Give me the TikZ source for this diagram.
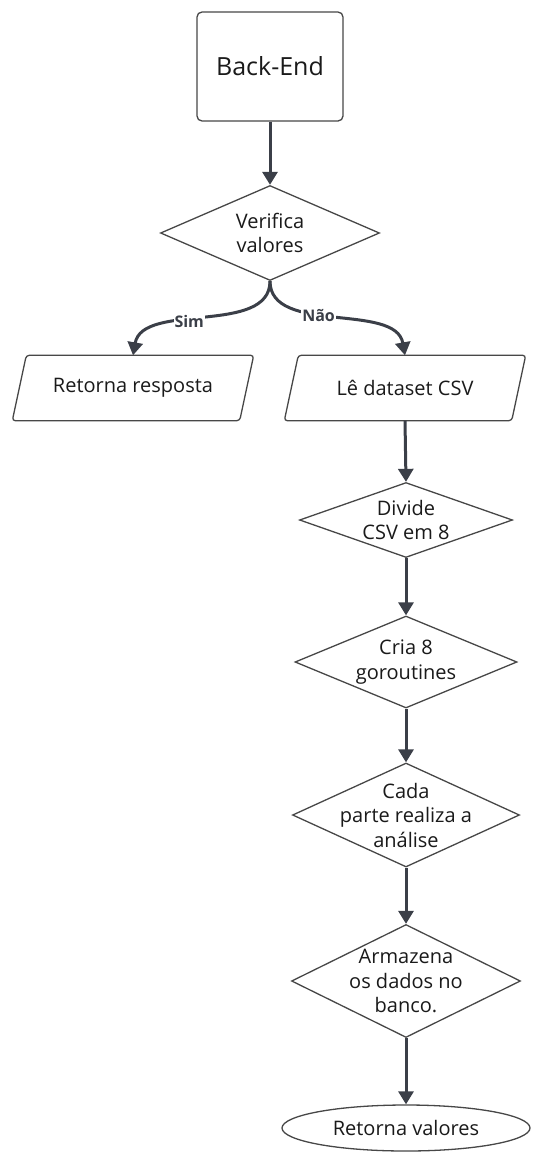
\documentclass[tikz,border=0pt]{standalone}
\usepackage{fontspec}
\setmainfont{Open Sans}
\usetikzlibrary{shapes.geometric,arrows.meta,positioning}
\definecolor{flowLine}{HTML}{3B3F48}
\definecolor{flowBorder}{HTML}{474747}
\definecolor{flowText}{HTML}{1A1A1A}
\newcommand{\flowfont}{\fontsize{20}{24.5}\selectfont}
\tikzset{
  flowshape/.style={draw=flowBorder, line width=1.3pt, fill=white, text=flowText, inner sep=0pt},
  flowborder/.style={draw=flowBorder, line width=1.3pt, line join=round},
  flowbox/.style={flowshape, rounded corners=5pt, minimum width=146pt, minimum height=109pt, font=\fontsize{25}{30}\selectfont},
  flowio/.style={text=flowText, inner sep=0pt, minimum width=227pt, minimum height=65pt, font=\flowfont},
  flowdecision/.style={flowshape, diamond},
  flowterm/.style={flowshape, ellipse, minimum width=248pt, minimum height=46pt, font=\flowfont},
  flowtext/.style={align=center, text=flowText, font=\flowfont},
  flowarrow/.style={draw=flowLine, line width=3pt, -{Triangle[width=15pt,length=13pt]}},
  flowlabel/.style={fill=white, inner sep=1pt, text=flowLine, font=\bfseries\fontsize{16}{18}\selectfont}
}
\begin{document}
\begin{tikzpicture}[x=1pt, y=-1pt]
\useasboundingbox (0,0) rectangle (536,1154);
% main nodes
\node[flowbox] (backend) at (270,66.5) {Back-End};
\node[flowdecision, minimum width=219pt, minimum height=95pt,
  label={[flowtext]center:{Verifica\\valores}}] (verifica) at (270,233) {};
\node[flowio] (retorna) at (133,388) {Retorna resposta};
\node[flowio] (dataset) at (405,388) {Lê dataset CSV};
% slanted outlines of the two data boxes
\draw[flowborder, rounded corners=3pt] ([xshift=7pt]retorna.north west) -- ([xshift=7pt]retorna.north east)
  -- ([xshift=-7pt]retorna.south east) -- ([xshift=-7pt]retorna.south west) -- cycle;
\draw[flowborder, rounded corners=3pt] ([xshift=7pt]dataset.north west) -- ([xshift=7pt]dataset.north east)
  -- ([xshift=-7pt]dataset.south east) -- ([xshift=-7pt]dataset.south west) -- cycle;
\node[flowdecision, minimum width=213pt, minimum height=75pt,
  label={[flowtext]center:{Divide\\CSV em 8}}] (divide) at (406,520) {};
\node[flowdecision, minimum width=222pt, minimum height=92pt,
  label={[flowtext]center:{Cria 8\\goroutines}}] (cria) at (406,662) {};
\node[flowdecision, minimum width=227pt, minimum height=104pt,
  label={[flowtext]center:{Cada\\parte realiza a\\análise}}] (cada) at (406,815) {};
\node[flowdecision, minimum width=229pt, minimum height=113pt,
  label={[flowtext]center:{Armazena\\os dados no\\banco.}}] (armazena) at (406,981) {};
\node[flowterm] (valores) at (406,1128) {Retorna valores};
% connectors
\draw[flowarrow] (backend.south) -- (verifica.north);
\draw[flowarrow] (verifica.south) to[out=-90, in=80, looseness=0.9]
  node[flowlabel, pos=0.58] {Sim} (retorna.north);
\draw[flowarrow] (verifica.south) to[out=-90, in=100, looseness=0.9]
  node[flowlabel, pos=0.42] {Não} (dataset.north);
\draw[flowarrow] (dataset.south) -- (divide.north);
\draw[flowarrow] (divide.south) -- (cria.north);
\draw[flowarrow] (cria.south) -- (cada.north);
\draw[flowarrow] (cada.south) -- (armazena.north);
\draw[flowarrow] (armazena.south) -- (valores.north);
\end{tikzpicture}
\end{document}
